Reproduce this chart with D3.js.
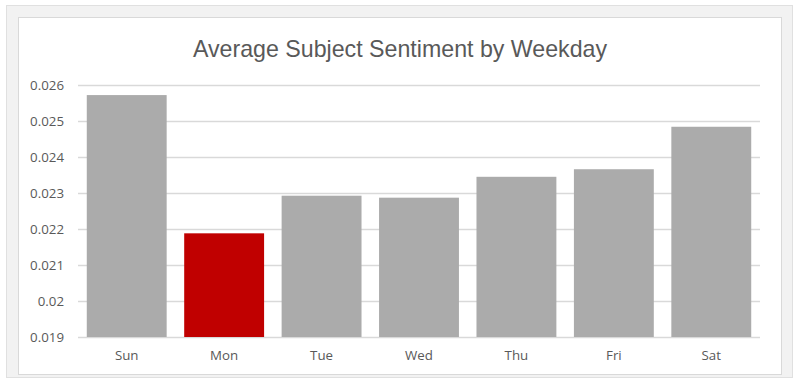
<!DOCTYPE html>
<html><head><meta charset="utf-8">
<script src="https://cdn.jsdelivr.net/npm/d3@7"></script>
<style>body{margin:0;background:#fff;}svg{display:block;}</style>
</head><body>
<svg id="c" width="800" height="380"></svg>
<script>
const categories = ["Sun","Mon","Tue","Wed","Thu","Fri","Sat"];
const values = [0.02572, 0.02188, 0.022925, 0.02287, 0.02345, 0.02366, 0.02484];
const highlight = ["Mon"];
const yTicks = [0.019,0.02,0.021,0.022,0.023,0.024,0.025,0.026];
const yTickLabels = ["0.019","0.02","0.021","0.022","0.023","0.024","0.025","0.026"];
const title = "Average Subject Sentiment by Weekday";

const svg = d3.select("#c");
svg.append("rect").attr("x",0).attr("y",0).attr("width",800).attr("height",380).attr("fill","#fff");
svg.append("rect").attr("x",6.5).attr("y",5.5).attr("width",786).attr("height",372).attr("fill","#f2f2f2").attr("stroke","#e0e0e0");
svg.append("rect").attr("x",18.5).attr("y",17.5).attr("width",763).attr("height",357).attr("fill","#fff").attr("stroke","#d9d9d9");

const x = d3.scaleBand().domain(categories).range([78,760]).paddingInner(0.18).paddingOuter(0.09);
const y = d3.scaleLinear().domain([0.019,0.026]).range([337,85]);

const grid = svg.append("g");
grid.selectAll("line").data(yTicks).join("line")
  .attr("x1",78).attr("x2",760)
  .attr("y1",d=>Math.round(y(d))+0.5).attr("y2",d=>Math.round(y(d))+0.5)
  .attr("stroke","#d9d9d9").attr("stroke-width",1.3);

svg.append("g").selectAll("rect").data(categories).join("rect")
  .attr("x",d=>x(d)).attr("width",x.bandwidth())
  .attr("y",(d,i)=>y(values[i])).attr("height",(d,i)=>y(0.019)-y(values[i]))
  .attr("fill",d=>highlight.includes(d)?"#c00000":"#ababab");

const yAxis = d3.axisLeft(y).tickValues(yTicks).tickFormat((d,i)=>yTickLabels[i]).tickSize(0).tickPadding(12);
const ga = svg.append("g").attr("transform","translate(76,0)").call(yAxis);
ga.select(".domain").remove();
ga.selectAll("text").attr("font-family","'Open Sans', sans-serif").attr("font-size",13.3).attr("fill","#595959");

const xAxis = d3.axisBottom(x).tickSize(0).tickPadding(14);
const gx = svg.append("g").attr("transform","translate(0,337)").call(xAxis);
gx.select(".domain").remove();
gx.selectAll("text").attr("font-family","'Open Sans', sans-serif").attr("font-size",13.3).attr("fill","#595959");

svg.append("text").attr("x",400).attr("y",57).attr("text-anchor","middle")
  .attr("font-family","'Liberation Sans', Arial, sans-serif").attr("font-size",23.2)
  .attr("fill","#595959").text(title);
</script>
</body></html>
